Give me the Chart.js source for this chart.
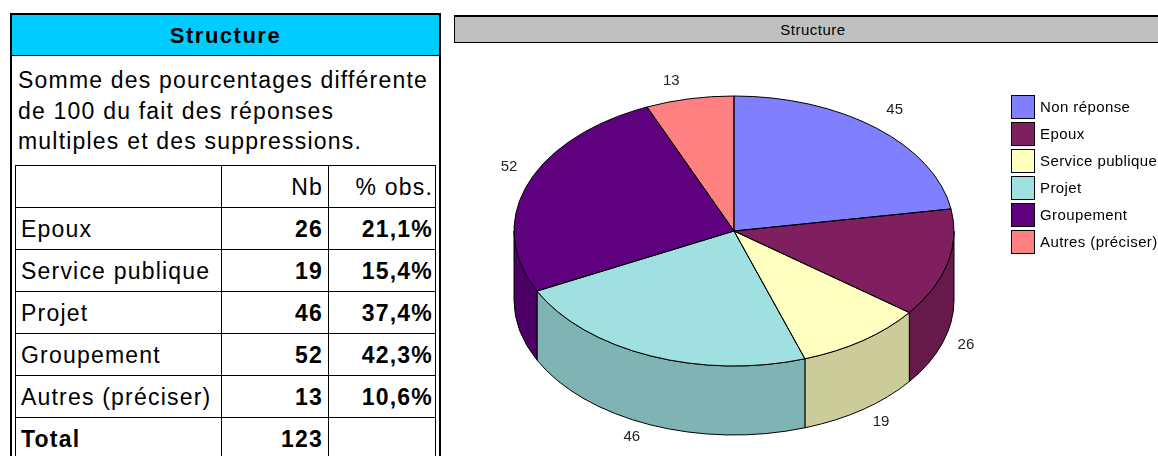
<!DOCTYPE html>
<html>
<head>
<meta charset="utf-8">
<script src="https://cdn.jsdelivr.net/npm/chart.js@4"></script>
<style>
  html, body { margin: 0; padding: 0; background: #fff; overflow: hidden; width: 1158px; height: 456px; }
  body { position: relative; font-family: Arial, "Liberation Sans", sans-serif; color: #000; }
  #panel { position: absolute; left: 10px; top: 13px; width: 427px; height: 460px; border: 2px solid #000; }
  #head { position: absolute; left: 0; top: 0; width: 427px; height: 40px; background: #00CCFF; border-bottom: 1px solid #000;
          font-weight: bold; font-size: 22px; letter-spacing: 1.5px; text-align: center; line-height: 42px; }
  #note { position: absolute; left: 6px; top: 50px; font-size: 23px; letter-spacing: 1.2px; line-height: 30.5px; }
  #tbl { position: absolute; left: 3px; top: 150px; border-collapse: collapse; font-size: 23px; letter-spacing: 1.2px; }
  #tbl td { border: 1px solid #000; height: 42px; padding: 2px 5px 0 5px; box-sizing: border-box; white-space: nowrap; }
  #tbl td.c0 { width: 206px; text-align: left; }
  #tbl td.c1 { width: 107px; text-align: right; }
  #tbl td.c2 { width: 107px; text-align: right; padding-right: 2px; }
  #tbl .b { font-weight: bold; }
  #ttl { position: absolute; left: 454px; top: 15px; width: 716px; height: 25px; background: #C0C0C0; border: 1px solid #000; border-top-width: 2px;
         font-size: 15px; letter-spacing: 0.5px; text-align: center; line-height: 25px; }
  #cv { position: absolute; left: 455px; top: 43px; }
  #legend { position: absolute; left: 1011px; top: 95px; font-size: 15px; letter-spacing: 0.4px; }
  .li { height: 27px; display: flex; align-items: flex-start; white-space: nowrap; }
  .sw { width: 22px; height: 22px; border: 1px solid #000; margin-right: 5px; }
  .lt { line-height: 24px; }
</style>
</head>
<body>
<div id="panel">
  <div id="head">Structure</div>
  <div id="note">Somme des pourcentages différente<br>de 100 du fait des réponses<br>multiples et des suppressions.</div>
  <table id="tbl"></table>
</div>
<div id="ttl">Structure</div>
<canvas id="cv" width="558" height="413"></canvas>
<div id="legend"></div>
<script>
// table (left panel)
const tableRows = ['Epoux', 'Service publique', 'Projet', 'Groupement', 'Autres (préciser)'];
const tableNb = [26, 19, 46, 52, 13];
const tablePct = ['21,1%', '15,4%', '37,4%', '42,3%', '10,6%'];
const tableTotal = 123;

// pie chart
const labels = ['Non réponse', 'Epoux', 'Service publique', 'Projet', 'Groupement', 'Autres (préciser)'];
const values = [45, 26, 19, 46, 52, 13];
const colors = ['#8080FF', '#7F1F5F', '#FFFFC0', '#A0E0E0', '#5F007F', '#FF8080'];
const sideColors = ['#6666CC', '#661A4C', '#CCCC9A', '#80B3B3', '#4C0066', '#CC6666'];

const TILT = 135 / 220;
const DEPTH = 69;

// build table
let html = '<tr><td class="c0"></td><td class="c1">Nb</td><td class="c2">% obs.</td></tr>';
tableRows.forEach((r, i) => {
  html += `<tr><td class="c0">${r}</td><td class="c1 b">${tableNb[i]}</td><td class="c2 b">${tablePct[i]}</td></tr>`;
});
html += `<tr><td class="c0 b">Total</td><td class="c1 b">${tableTotal}</td><td class="c2"></td></tr>`;
document.getElementById('tbl').innerHTML = html;

// legend
document.getElementById('legend').innerHTML = labels.map((l, i) =>
  `<div class="li"><div class="sw" style="background:${colors[i]}"></div><span class="lt">${l}</span></div>`).join('');

const pie3d = {
  id: 'pie3d',
  beforeDatasetsDraw(chart) {
    const ctx = chart.ctx;
    const arcs = chart.getDatasetMeta(0).data;
    const { x, y, outerRadius: r } = arcs[0];
    const ry = r * TILT;
    // visible outer walls (front half)
    ctx.save();
    ctx.lineWidth = 1;
    ctx.strokeStyle = '#000';
    arcs.forEach((arc, i) => {
      const a = Math.max(arc.startAngle, 0), b = Math.min(arc.endAngle, Math.PI);
      if (b <= a) return;
      ctx.beginPath();
      ctx.ellipse(x, y, r, ry, 0, a, b, false);
      ctx.ellipse(x, y + DEPTH, r, ry, 0, b, a, true);
      ctx.closePath();
      ctx.fillStyle = sideColors[i];
      ctx.fill();
      ctx.stroke();
    });
    ctx.restore();
    // flatten the top face
    ctx.save();
    ctx.translate(0, y);
    ctx.scale(1, TILT);
    ctx.translate(0, -y);
  },
  afterDatasetsDraw(chart) {
    const ctx = chart.ctx;
    ctx.restore();
    const arcs = chart.getDatasetMeta(0).data;
    const { x, y, outerRadius: r } = arcs[0];
    const ry = r * TILT;
    ctx.save();
    ctx.lineWidth = 1;
    ctx.strokeStyle = '#000';
    arcs.forEach(arc => {
      ctx.beginPath();
      ctx.moveTo(x, y);
      ctx.lineTo(x + Math.cos(arc.startAngle) * r, y + Math.sin(arc.startAngle) * ry);
      ctx.ellipse(x, y, r, ry, 0, arc.startAngle, arc.endAngle, false);
      ctx.closePath();
      ctx.stroke();
    });
    // data labels, just outside the rim
    ctx.font = '15px Arial, "Liberation Sans", sans-serif';
    ctx.fillStyle = '#222';
    ctx.textBaseline = 'middle';
    arcs.forEach((arc, i) => {
      const m = (arc.startAngle + arc.endAngle) / 2;
      const c = Math.cos(m), s = Math.sin(m);
      ctx.textAlign = c >= 0 ? 'left' : 'right';
      const lx = x + c * r + (c >= 0 ? 10 : -10);
      const ly = y + s * ry + (s > 0 ? DEPTH + 12 : -18);
      ctx.fillText(String(values[i]), lx, ly);
    });
    ctx.restore();
  }
};

new Chart(document.getElementById('cv'), {
  type: 'pie',
  data: {
    labels: labels,
    datasets: [{
      data: values,
      backgroundColor: colors,
      borderWidth: 0,
      radius: 220,
      clip: false
    }]
  },
  options: {
    responsive: false,
    animation: false,
    layout: { padding: { bottom: 37 } },
    plugins: {
      legend: { display: false },
      tooltip: { enabled: false }
    }
  },
  plugins: [pie3d]
});
</script>
</body>
</html>
